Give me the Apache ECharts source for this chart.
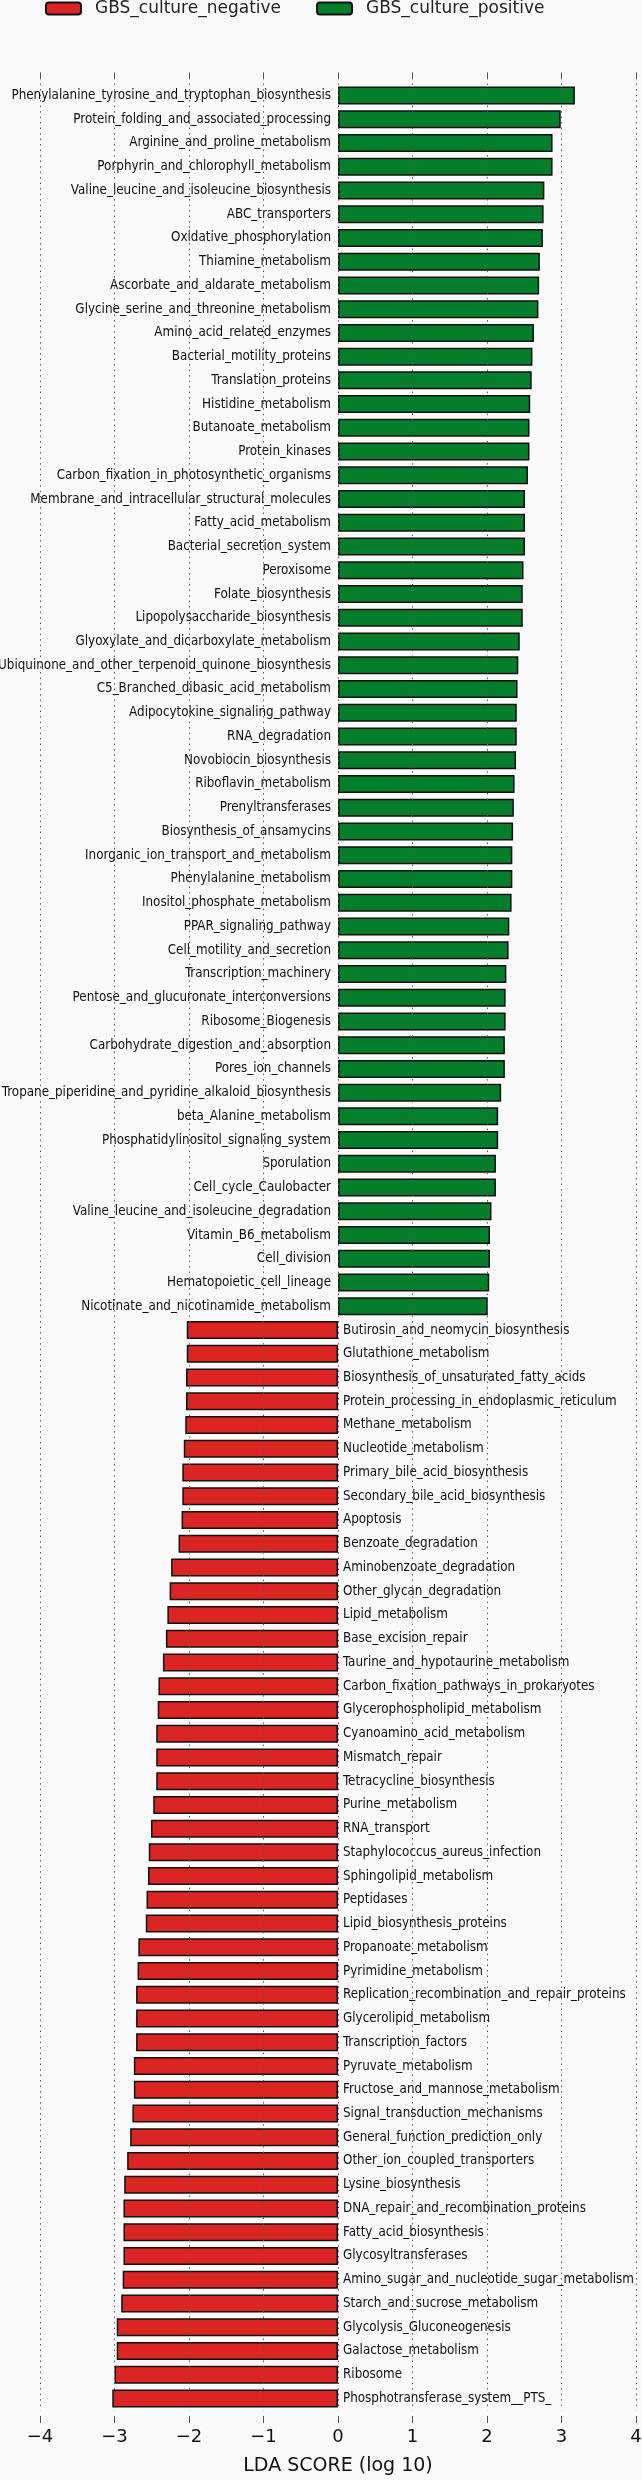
<!DOCTYPE html>
<html>
<head>
<meta charset="utf-8">
<script src="https://cdn.jsdelivr.net/npm/echarts@6/dist/echarts.min.js"></script>
<style>
  html, body { margin: 0; padding: 0; background: #fafafa; }
  #chart { width: 642px; height: 2480px; }
</style>
</head>
<body>
<div id="chart"></div>
<script>
// Features enriched in GBS_culture_positive (green, positive LDA)
const positiveNames = [
  "Phenylalanine_tyrosine_and_tryptophan_biosynthesis",
  "Protein_folding_and_associated_processing",
  "Arginine_and_proline_metabolism",
  "Porphyrin_and_chlorophyll_metabolism",
  "Valine_leucine_and_isoleucine_biosynthesis",
  "ABC_transporters",
  "Oxidative_phosphorylation",
  "Thiamine_metabolism",
  "Ascorbate_and_aldarate_metabolism",
  "Glycine_serine_and_threonine_metabolism",
  "Amino_acid_related_enzymes",
  "Bacterial_motility_proteins",
  "Translation_proteins",
  "Histidine_metabolism",
  "Butanoate_metabolism",
  "Protein_kinases",
  "Carbon_fixation_in_photosynthetic_organisms",
  "Membrane_and_intracellular_structural_molecules",
  "Fatty_acid_metabolism",
  "Bacterial_secretion_system",
  "Peroxisome",
  "Folate_biosynthesis",
  "Lipopolysaccharide_biosynthesis",
  "Glyoxylate_and_dicarboxylate_metabolism",
  "Ubiquinone_and_other_terpenoid_quinone_biosynthesis",
  "C5_Branched_dibasic_acid_metabolism",
  "Adipocytokine_signaling_pathway",
  "RNA_degradation",
  "Novobiocin_biosynthesis",
  "Riboflavin_metabolism",
  "Prenyltransferases",
  "Biosynthesis_of_ansamycins",
  "Inorganic_ion_transport_and_metabolism",
  "Phenylalanine_metabolism",
  "Inositol_phosphate_metabolism",
  "PPAR_signaling_pathway",
  "Cell_motility_and_secretion",
  "Transcription_machinery",
  "Pentose_and_glucuronate_interconversions",
  "Ribosome_Biogenesis",
  "Carbohydrate_digestion_and_absorption",
  "Pores_ion_channels",
  "Tropane_piperidine_and_pyridine_alkaloid_biosynthesis",
  "beta_Alanine_metabolism",
  "Phosphatidylinositol_signaling_system",
  "Sporulation",
  "Cell_cycle_Caulobacter",
  "Valine_leucine_and_isoleucine_degradation",
  "Vitamin_B6_metabolism",
  "Cell_division",
  "Hematopoietic_cell_lineage",
  "Nicotinate_and_nicotinamide_metabolism"
];
const positiveValues = [
  3.18, 2.99, 2.88, 2.88, 2.77, 2.76, 2.75, 2.71, 2.70, 2.69,
  2.63, 2.61, 2.60, 2.58, 2.57, 2.57, 2.55, 2.51, 2.51, 2.51,
  2.49, 2.48, 2.48, 2.44, 2.42, 2.41, 2.40, 2.40, 2.39, 2.37,
  2.36, 2.35, 2.34, 2.34, 2.33, 2.30, 2.29, 2.26, 2.25, 2.25,
  2.24, 2.24, 2.19, 2.15, 2.15, 2.12, 2.12, 2.06, 2.04, 2.04,
  2.03, 2.01
];

// Features enriched in GBS_culture_negative (red, negative LDA)
const negativeNames = [
  "Butirosin_and_neomycin_biosynthesis",
  "Glutathione_metabolism",
  "Biosynthesis_of_unsaturated_fatty_acids",
  "Protein_processing_in_endoplasmic_reticulum",
  "Methane_metabolism",
  "Nucleotide_metabolism",
  "Primary_bile_acid_biosynthesis",
  "Secondary_bile_acid_biosynthesis",
  "Apoptosis",
  "Benzoate_degradation",
  "Aminobenzoate_degradation",
  "Other_glycan_degradation",
  "Lipid_metabolism",
  "Base_excision_repair",
  "Taurine_and_hypotaurine_metabolism",
  "Carbon_fixation_pathways_in_prokaryotes",
  "Glycerophospholipid_metabolism",
  "Cyanoamino_acid_metabolism",
  "Mismatch_repair",
  "Tetracycline_biosynthesis",
  "Purine_metabolism",
  "RNA_transport",
  "Staphylococcus_aureus_infection",
  "Sphingolipid_metabolism",
  "Peptidases",
  "Lipid_biosynthesis_proteins",
  "Propanoate_metabolism",
  "Pyrimidine_metabolism",
  "Replication_recombination_and_repair_proteins",
  "Glycerolipid_metabolism",
  "Transcription_factors",
  "Pyruvate_metabolism",
  "Fructose_and_mannose_metabolism",
  "Signal_transduction_mechanisms",
  "General_function_prediction_only",
  "Other_ion_coupled_transporters",
  "Lysine_biosynthesis",
  "DNA_repair_and_recombination_proteins",
  "Fatty_acid_biosynthesis",
  "Glycosyltransferases",
  "Amino_sugar_and_nucleotide_sugar_metabolism",
  "Starch_and_sucrose_metabolism",
  "Glycolysis_Gluconeogenesis",
  "Galactose_metabolism",
  "Ribosome",
  "Phosphotransferase_system__PTS_"
];
const negativeValues = [
  -2.03, -2.03, -2.04, -2.04, -2.05, -2.07, -2.09, -2.09, -2.10, -2.14,
  -2.24, -2.26, -2.29, -2.31, -2.35, -2.41, -2.42, -2.44, -2.44, -2.44,
  -2.48, -2.51, -2.54, -2.55, -2.57, -2.58, -2.68, -2.69, -2.71, -2.71,
  -2.71, -2.74, -2.74, -2.76, -2.79, -2.83, -2.87, -2.88, -2.88, -2.88,
  -2.89, -2.91, -2.97, -2.97, -3.00, -3.03
];

const groupNames = ["GBS_culture_negative", "GBS_culture_positive"];
const xTicks = [-4, -3, -2, -1, 0, 1, 2, 3, 4];
const axisTitle = "LDA SCORE (log 10)";

const categories = positiveNames.concat(negativeNames);
const posData = positiveValues.concat(negativeNames.map(() => null));
const negData = positiveNames.map(() => null).concat(negativeValues);

const RED = '#DB2522';
const GREEN = '#057E2B';
const labelFont = "'DejaVu Sans Condensed', 'DejaVu Sans', sans-serif";

const chart = echarts.init(document.getElementById('chart'), null, { renderer: 'canvas' });

const tickFmt = v => (v < 0 ? '\u2212' + Math.abs(v) : String(v));
const barLabel = (pos, dist) => ({
  show: true, position: pos, distance: dist, formatter: '{b}',
  fontFamily: labelFont, fontSize: 13.3, color: '#111', overflow: 'none'
});

chart.setOption({
  backgroundColor: '#fafafa',
  animation: false,
  legend: {
    left: 45, top: 0, padding: 0,
    itemWidth: 35, itemHeight: 12, itemGap: 35,
    data: groupNames,
    textStyle: { fontFamily: 'DejaVu Sans', fontSize: 17, color: '#222', padding: [0, 0, 0, 9] }
  },
  grid: { left: 40, right: 6, top: 83.6, bottom: 69.7, containLabel: false, outerBoundsMode: 'none' },
  xAxis: [
    {
      type: 'value', position: 'bottom', min: xTicks[0], max: xTicks[xTicks.length - 1], interval: 1,
      offset: 5.7, z: 3,
      axisLine: { show: false },
      axisTick: { show: true, length: 7, lineStyle: { color: '#555', width: 1 } },
      axisLabel: { fontFamily: 'DejaVu Sans', fontSize: 18, color: '#111', margin: 12, formatter: tickFmt },
      splitLine: { show: true, lineStyle: { type: [1.5, 4], color: '#555', width: 1 } },
      name: axisTitle, nameLocation: 'middle', nameGap: 41,
      nameTextStyle: { fontFamily: 'DejaVu Sans', fontSize: 19, color: '#111' }
    },
    {
      type: 'value', position: 'top', min: xTicks[0], max: xTicks[xTicks.length - 1], interval: 1,
      offset: 4.3,
      axisLine: { show: false },
      axisTick: { show: true, length: 7, lineStyle: { color: '#555', width: 1 } },
      axisLabel: { show: false },
      splitLine: { show: false }
    }
  ],
  yAxis: {
    type: 'category', data: categories, inverse: true,
    axisLine: { show: false }, axisTick: { show: false },
    splitLine: { show: false }, axisLabel: { show: false }
  },
  series: [
    {
      name: groupNames[0], type: 'bar', data: negData, xAxisIndex: 0, yAxisIndex: 0,
      barWidth: 18, barGap: '-100%', z: 2,
      itemStyle: { color: RED, borderColor: '#111', borderWidth: 1.5 },
      label: barLabel('right', 5)
    },
    {
      name: groupNames[1], type: 'bar', data: posData, xAxisIndex: 0, yAxisIndex: 0,
      barWidth: 18, barGap: '-100%', z: 2,
      itemStyle: { color: GREEN, borderColor: '#111', borderWidth: 1.5 },
      label: barLabel('left', 7)
    }
  ]
});
</script>
</body>
</html>
